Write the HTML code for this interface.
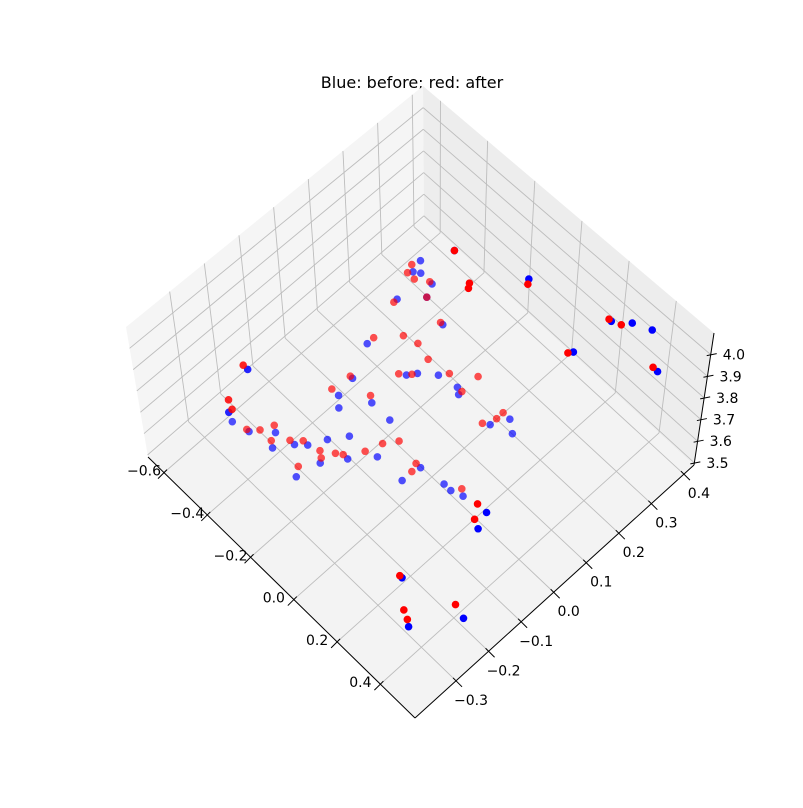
<!DOCTYPE html>
<html><head><meta charset="utf-8"><style>
html,body{margin:0;padding:0;background:#fff;}
svg{display:block;font-family:"DejaVu Sans","Liberation Sans",sans-serif;}
</style></head><body>
<svg id="chart" width="803" height="808" viewBox="0 0 803 808" xmlns="http://www.w3.org/2000/svg">
<rect x="0" y="0" width="803" height="808" fill="#fff"/>
<text x="412" y="88" text-anchor="middle" font-size="16" fill="#000">Blue: before; red: after</text>
<g id="panes"></g><g id="grid"></g><g id="axes"></g><g id="points"></g>
</svg>
<script>
const beforeX = [-0.52,-0.57,-0.56,-0.54,-0.49,-0.47,-0.53,-0.29,-0.37,-0.49,-0.26,-0.33,-0.31,-0.44,-0.40,-0.43,-0.34,-0.26,-0.19,-0.17,0.00,0.04,-0.03,-0.69,-0.60,-0.54,-0.48,-0.45,-0.41,-0.38,-0.35,-0.31,-0.33,-0.26,-0.31,-0.20,-0.08,-0.09,0.01,0.04,0.08,0.17,0.19,0.14,0.27,0.37,-0.02,-0.01,0.04,0.10,0.21,-0.63];
const beforeY = [0.48,0.41,0.38,0.39,0.39,0.36,0.31,0.55,0.34,0.19,0.25,0.20,0.22,0.11,0.04,0.06,0.10,0.10,0.26,0.25,0.29,0.27,0.25,-0.04,-0.15,-0.14,-0.10,-0.13,-0.09,-0.07,-0.03,-0.08,-0.14,-0.03,0.01,0.02,0.07,0.02,0.08,0.08,0.09,0.10,0.06,-0.14,-0.21,-0.11,0.50,0.61,0.64,0.66,0.60,-0.14];
const afterX = [-0.52,-0.58,-0.57,-0.54,-0.50,-0.41,-0.40,-0.47,-0.53,-0.28,-0.38,-0.49,-0.43,-0.38,-0.32,-0.35,-0.32,-0.45,-0.36,-0.46,-0.24,-0.17,-0.17,-0.03,-0.03,-0.05,-0.71,-0.66,-0.63,-0.55,-0.52,-0.50,-0.47,-0.43,-0.40,-0.34,-0.32,-0.35,-0.30,-0.28,-0.24,-0.22,-0.19,-0.10,-0.09,0.06,0.13,0.16,0.13,0.22,0.25,0.32,-0.03,-0.02,0.02,0.19];
const afterY = [0.48,0.39,0.37,0.37,0.39,0.45,0.44,0.36,0.30,0.54,0.34,0.21,0.26,0.27,0.26,0.19,0.21,0.11,0.11,0.06,0.27,0.31,0.26,0.29,0.27,0.24,-0.04,-0.12,-0.13,-0.14,-0.12,-0.09,-0.12,-0.09,-0.07,-0.06,-0.07,-0.12,-0.04,-0.03,0.01,0.05,0.08,0.07,0.05,0.10,0.10,0.07,-0.14,-0.19,-0.20,-0.10,0.49,0.61,0.62,0.60];
const xTicks = [-0.6,-0.4,-0.2,0.0,0.2,0.4];
const xTickLabels = ["\u22120.6","\u22120.4","\u22120.2","0.0","0.2","0.4"];
const yTicks = [-0.3,-0.2,-0.1,0.0,0.1,0.2,0.3,0.4];
const yTickLabels = ["\u22120.3","\u22120.2","\u22120.1","0.0","0.1","0.2","0.3","0.4"];
const zTicks = [3.5,3.6,3.7,3.8,3.9,4.0];
const zTickLabels = ["3.5","3.6","3.7","3.8","3.9","4.0"];

const NS = "http://www.w3.org/2000/svg";
const L0=[148,457], BT=[415,718], R0=[694,465], BK=[424,218];
const L1=[126,327], B1=[423,86], R1=[714,333];
const lerp=(a,b,t)=>[a[0]+(b[0]-a[0])*t, a[1]+(b[1]-a[1])*t];
const xu = x => (x+0.674)/1.234;
const yv = y => (y+0.426)/0.857;
const wz = z => (z-3.49)/0.61;
function F(u,v){ return lerp(lerp(L0,BK,v), lerp(BT,R0,v), u); }
function W1(v,w){ return lerp(F(0,v), lerp(L1,B1,v), w); }
function W2(u,w){ return lerp(F(u,1), lerp(B1,R1,u), w); }
function px(x,y){ return 415 + (x-0.5)*225 + (y+0.35)*324; }
function py(x,y){ return 718 + (x-0.5)*215 - (y+0.35)*299; }

function poly(g, pts, fill, name){
  const p=document.createElementNS(NS,"polygon");
  p.setAttribute("points", pts.map(q=>q.join(",")).join(" "));
  p.setAttribute("fill", fill);
  
  
  g.appendChild(p);
}
function line(g,a,b,color,w,name){
  const l=document.createElementNS(NS,"line");
  l.setAttribute("x1",a[0]);l.setAttribute("y1",a[1]);
  l.setAttribute("x2",b[0]);l.setAttribute("y2",b[1]);
  l.setAttribute("stroke",color);l.setAttribute("stroke-width",w);
  
  
  g.appendChild(l);
}
function label(g,p,txt,name,anchor){
  const t=document.createElementNS(NS,"text");
  t.setAttribute("x",p[0]);t.setAttribute("y",p[1]);
  t.setAttribute("font-size","14");t.setAttribute("text-anchor",anchor||"middle");
  t.setAttribute("dominant-baseline","central");
  t.textContent=txt;
  
  
  g.appendChild(t);
}
const panes=document.getElementById("panes"), grid=document.getElementById("grid"), axes=document.getElementById("axes"), pts=document.getElementById("points");
poly(panes,[L0,BK,B1,L1],"#f5f5f5","left-wall-pane");
poly(panes,[BK,R0,R1,B1],"#ededed","right-wall-pane");
poly(panes,[L0,BT,R0,BK],"#f3f3f3","floor-pane");
const gc="#bdbdbd", gw=0.9;
xTicks.forEach(x=>{ const u=xu(x);
  line(grid,F(u,0),F(u,1),gc,gw,"floor-gridline-x");
  line(grid,W2(u,0),W2(u,1),gc,gw,"wall-gridline-x"); });
yTicks.forEach(y=>{ const v=yv(y);
  line(grid,F(0,v),F(1,v),gc,gw,"floor-gridline-y");
  line(grid,W1(v,0),W1(v,1),gc,gw,"wall-gridline-y"); });
zTicks.forEach(z=>{ const w=wz(z);
  line(grid,W1(0,w),W1(1,w),gc,gw,"wall-gridline-z");
  line(grid,W2(0,w),W2(1,w),gc,gw,"wall-gridline-z"); });
line(axes,L0,BT,"#000",1,"x-axis-line");
line(axes,BT,R0,"#000",1,"y-axis-line");
line(axes,R0,R1,"#000",1,"z-axis-line");
xTicks.forEach((x,i)=>{ const p=F(xu(x),0);
  line(axes,[p[0]+3,p[1]-3],[p[0]-6,p[1]+6],"#000",1,"x-tick");
  label(axes,[p[0]-20,p[1]-1],xTickLabels[i],"x-tick-label"); });
yTicks.forEach((y,i)=>{ const p=F(1,yv(y));
  line(axes,[p[0]-3,p[1]-3],[p[0]+6,p[1]+6],"#000",1,"y-tick");
  label(axes,[p[0]+15,p[1]+20],yTickLabels[i],"y-tick-label"); });
zTicks.forEach((z,i)=>{ const p=lerp(R0,R1,wz(z));
  line(axes,[p[0]-4,p[1]+1],[p[0]+6,p[1]-1],"#000",1,"z-tick");
  label(axes,[p[0]+12,p[1]+1],zTickLabels[i],"z-tick-label","start"); });
function alphaFor(x,y){ return (y>0.42||x>0.1)?1:(x<-0.6?0.85:0.68); }
function dot(x,y,color,name){
  const c=document.createElementNS(NS,"circle");
  c.setAttribute("cx",px(x,y));c.setAttribute("cy",py(x,y));
  c.setAttribute("r",3.4);c.setAttribute("fill",color);
  c.setAttribute("stroke",color);c.setAttribute("stroke-width",0.8);
  c.setAttribute("opacity",alphaFor(x,y));
  
  
  pts.appendChild(c);
}
beforeX.forEach((x,i)=>dot(x,beforeY[i],"#0000ff","point-before"));
afterX.forEach((x,i)=>dot(x,afterY[i],"#ff0000","point-after"));
</script>
</body></html>
